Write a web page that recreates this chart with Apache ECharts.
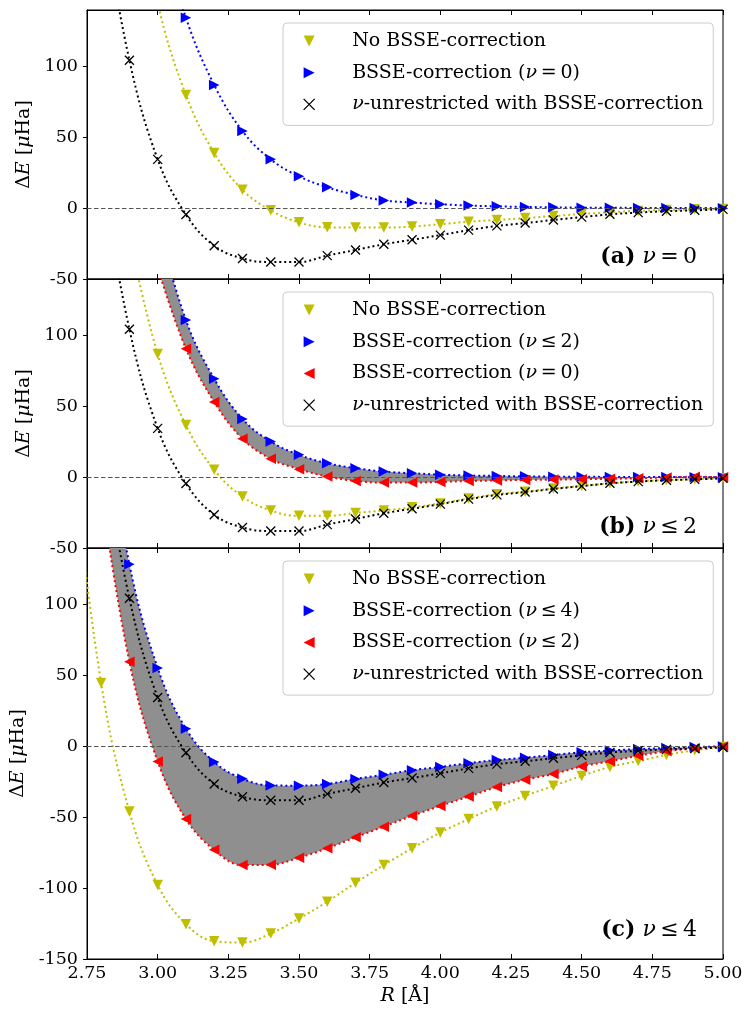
<!DOCTYPE html>
<html>
<head>
<meta charset="utf-8">
<script src="https://cdn.jsdelivr.net/npm/echarts@6/dist/echarts.min.js"></script>
<style>
  html, body { margin: 0; padding: 0; background: #ffffff; }
  #chart { width: 745px; height: 1015px; }
</style>
</head>
<body>
<div id="chart"></div>
<script>
// Separation R in Å (2.7 lies just left of the plotted window)
const R = [2.7, 2.8, 2.9, 3.0, 3.1, 3.2, 3.3, 3.4, 3.5, 3.6, 3.7, 3.8,
           3.9, 4.0, 4.1, 4.2, 4.3, 4.4, 4.5, 4.6, 4.7, 4.8, 4.9, 5.0];

// Interaction energy ΔE in µHa
const unrestricted = [null, 215, 104.5, 34.5, -4.5, -26.5, -35.5, -38, -38, -33.5, -29.5, -25.5,
                      -22.3, -19, -15.5, -12.5, -10.5, -8.3, -6.3, -4.3, -3.1, -2.1, -1.5, -0.8];

// (a) nu = 0
const noBsseA  = [null, null, 250, 145, 80, 39, 13, -1.5, -10, -13.5, -13.7, -13.7,
                  -13, -11.3, -9.5, -8.3, -7, -5.5, -4.1, -2.9, -1.9, -1.3, -0.8, -0.5];
const bsseNu0A = [null, null, 310, 205, 134.5, 87, 54.5, 34.5, 22.5, 14.8, 9.4, 5.5,
                  4.0, 2.8, 1.9, 1.3, 0.9, 0.6, 0.4, 0.3, 0.2, 0.1, 0.1, 0.0];

// (b) nu <= 2
const noBsseB  = [null, null, 170, 87, 36.8, 5.2, -13.7, -23.5, -27.3, -27.3, -25.2, -23.5,
                  -21.3, -18.5, -15, -12, -10.2, -8, -6.2, -4.3, -3, -2, -1.5, -0.8];
const bsseNu2B = [null, null, null, 180, 111, 69.5, 41.2, 25.2, 15.8, 9.9, 6.4, 4.0,
                  2.8, 1.8, 1.2, 0.9, 0.6, 0.4, 0.3, 0.2, 0.1, 0.1, 0.0, 0.0];
const bsseNu0B = [null, null, null, 148, 90.8, 53.2, 27.2, 13, 5.7, 0.5, -2.6, -3.8,
                  -3.8, -3.3, -2.7, -2.3, -1.9, -1.7, -1.4, -1.1, -0.8, -0.2, 0.3, 0.0];

// (c) nu <= 4
const noBsseC  = [200, 44.8, -46, -97.8, -125.4, -137.4, -138.4, -132, -121.4, -109.6, -96.2, -83.7,
                  -71.9, -60.8, -51.3, -42.4, -34.9, -27.8, -20.8, -14.5, -10.3, -6, -2.7, -0.5];
const bsseNu4C = [null, 250, 128.5, 55.4, 12.5, -11, -22.8, -27.5, -27.7, -26.5, -23, -20,
                  -16.8, -14.5, -11.8, -9.6, -8, -6, -4.2, -2.9, -1.9, -1.1, -0.4, 0];
const bsseNu2C = [null, 180, 59.7, -10.6, -51.3, -73, -83.7, -83.5, -78.5, -71.9, -64.1, -56.6,
                  -49, -42, -35.4, -28.7, -23.5, -19.5, -14.1, -10.5, -6.6, -3.5, -1.3, 0];

// Axis ticks
const xTicks   = [2.75, 3.00, 3.25, 3.50, 3.75, 4.00, 4.25, 4.50, 4.75, 5.00];
const yTicksAB = [-50, 0, 50, 100];
const yTicksC  = [-150, -100, -50, 0, 50, 100];

// Legend labels
const LBL_NO    = 'No BSSE-correction';
const LBL_NU0   = 'BSSE-correction (ν\u2009=\u20090)';
const LBL_NU2   = 'BSSE-correction (ν\u2009≤\u20092)';
const LBL_NU4   = 'BSSE-correction (ν\u2009≤\u20094)';
const LBL_UNRES = 'ν-unrestricted with BSSE-correction';

const FONT = 'DejaVu Serif';
const YELLOW = '#bfbf00', BLUE = '#0000ff', RED = '#ff0000', BLACK = '#000000';
const FILL = '#8e8f8e';

const ICON_DOWN  = 'path://M0,0L10,0L5,10Z';
const ICON_RIGHT = 'path://M0,0L10,5L0,10Z';
const ICON_LEFT  = 'path://M10,0L0,5L10,10Z';
const ICON_X     = 'path://M0,0L10,10M10,0L0,10';

const SMOOTH = 0.4;

function pairs(vals) { return R.map((x, i) => [x, vals[i]]); }
function markerStyle(symbol, color) {
  return symbol === ICON_X
    ? { color: 'rgba(0,0,0,0)', borderColor: color, borderWidth: 1.3 }
    : { color: color, borderWidth: 0 };
}

function lineSeries(panel, name, vals, color, symbol, z, extra) {
  return Object.assign({
    type: 'line', name: name,
    xAxisIndex: panel * 2, yAxisIndex: panel,
    data: pairs(vals),
    smooth: SMOOTH,
    symbol: symbol, symbolSize: symbol === ICON_X ? 9 : 10.5,
    z: z,
    lineStyle: { color: color, width: 2, type: [2, 3] },
    itemStyle: markerStyle(symbol, color),
    emphasis: { disabled: true },
    silent: true
  }, extra || {});
}

// Shaded band between two curves: invisible lower curve plus the stacked gap above it.
// Values come first in each item so that stacking acts on the y dimension.
function bandSeries(panel, lo, hi, key) {
  const idx = R.map((_, i) => i).filter(i => lo[i] !== null && hi[i] !== null);
  const common = {
    type: 'line', xAxisIndex: panel * 2, yAxisIndex: panel,
    encode: { x: 1, y: 0 },
    smooth: SMOOTH, symbol: 'none', showSymbol: false,
    stack: key, stackStrategy: 'all',
    lineStyle: { width: 0, opacity: 0 },
    emphasis: { disabled: true }, silent: true, z: 1
  };
  return [
    Object.assign({}, common, { name: key + '-base',
      data: idx.map(i => [lo[i], R[i]]) }),
    Object.assign({}, common, { name: key + '-fill',
      data: idx.map(i => [+(hi[i] - lo[i]).toFixed(3), R[i]]),
      areaStyle: { color: FILL, opacity: 1 } })
  ];
}

// Dashed reference line at ΔE = 0
const zeroLine = {
  silent: true, symbol: ['none', 'none'], label: { show: false },
  lineStyle: { color: '#555555', type: [4.5, 2.5], width: 1, opacity: 1 },
  emphasis: { disabled: true },
  data: [{ yAxis: 0 }]
};

const richText = {
  i: { fontStyle: 'italic', fontFamily: FONT, fontSize: 19, lineHeight: 22, color: '#000' },
  p: { width: 28, fontFamily: FONT, fontSize: 19, lineHeight: 22 }
};

function legendFor(top, items) {
  return {
    orient: 'vertical', left: 283, top: top,
    itemWidth: 20, itemHeight: 11, itemGap: 9.7,
    padding: [7, 10, 10, 20],
    backgroundColor: 'rgba(255,255,255,0.8)',
    borderColor: '#cccccc', borderWidth: 1, borderRadius: 4,
    selectedMode: false,
    textStyle: { fontFamily: FONT, fontSize: 19, lineHeight: 22, color: '#000', rich: richText },
    formatter: n => '{p| }' + n.replace(/ν/g, '{i|ν}'),
    data: items.map(it => ({
      name: it[0], icon: it[2],
      itemStyle: markerStyle(it[2], it[1])
    }))
  };
}

const grids = [
  { left: 87, width: 636, top: 10,  height: 269 },
  { left: 87, width: 636, top: 279, height: 269 },
  { left: 87, width: 636, top: 548, height: 411 }
].map(g => Object.assign(g, {
  show: true, borderColor: '#000', borderWidth: 1, backgroundColor: 'transparent',
  containLabel: false, outerBoundsMode: 'none'
}));

const xAxes = [];
[0, 1, 2].forEach(p => {
  const last = p === 2;
  xAxes.push({
    type: 'value', gridIndex: p, position: 'bottom',
    min: 2.75, max: 5.0, interval: 0.25,
    axisLine: { show: true, onZero: false, lineStyle: { color: '#000', width: 1 } },
    axisTick: { show: true, inside: true, length: 5, lineStyle: { color: '#000' },
                customValues: xTicks },
    axisLabel: { show: last, margin: 5, fontFamily: FONT, fontSize: 17.5, color: '#000',
                 customValues: xTicks, formatter: v => v.toFixed(2) },
    splitLine: { show: false },
    name: last ? '{i|R} [Å]' : '', nameLocation: 'middle', nameGap: 28,
    nameTextStyle: { fontFamily: FONT, fontSize: 19, color: '#000',
                     rich: { i: { fontStyle: 'italic', fontFamily: FONT, fontSize: 19, color: '#000' } } }
  });
  xAxes.push({
    type: 'value', gridIndex: p, position: 'top',
    min: 2.75, max: 5.0, interval: 0.25,
    axisLine: { show: true, onZero: false, lineStyle: { color: '#000', width: 1 } },
    axisTick: { show: true, inside: true, length: 5, lineStyle: { color: '#000' },
                customValues: xTicks },
    axisLabel: { show: false },
    splitLine: { show: false }
  });
});

const yAxes = [0, 1, 2].map(p => {
  const ticks = p === 2 ? yTicksC : yTicksAB;
  return {
    type: 'value', gridIndex: p,
    min: p === 2 ? -150 : -50, max: 140, interval: 50,
    axisLine: { show: true, onZero: false, lineStyle: { color: '#000', width: 1 } },
    axisTick: { show: true, inside: false, length: 4, lineStyle: { color: '#000' },
                customValues: ticks },
    axisLabel: { margin: 9, fontFamily: FONT, fontSize: 17.5, color: '#000',
                 customValues: ticks, formatter: v => String(v) },
    splitLine: { show: false },
    name: 'Δ{i|E} [{i|μ}Ha]', nameLocation: 'middle', nameRotate: 90,
    nameGap: p === 2 ? 57 : 48,
    nameTextStyle: { fontFamily: FONT, fontSize: 19, color: '#000',
                     rich: { i: { fontStyle: 'italic', fontFamily: FONT, fontSize: 19, color: '#000' } } }
  };
});

const titleRich = {
  b: { fontWeight: 'bold', fontFamily: FONT, fontSize: 22, lineHeight: 26, color: '#000' },
  i: { fontStyle: 'italic', fontWeight: 'normal', fontFamily: FONT, fontSize: 22, lineHeight: 26, color: '#000' },
  n: { fontWeight: 'normal', fontFamily: FONT, fontSize: 22, lineHeight: 26, color: '#000' }
};
function panelTitle(text, top) {
  return { text: text, right: 48, top: top, padding: 0,
           textStyle: { fontFamily: FONT, fontSize: 22, fontWeight: 'normal', lineHeight: 26,
                        color: '#000', rich: titleRich } };
}

const series = [].concat(
  // (a)
  lineSeries(0, LBL_NO, noBsseA, YELLOW, ICON_DOWN, 2, { markLine: zeroLine }),
  lineSeries(0, LBL_NU0, bsseNu0A, BLUE, ICON_RIGHT, 3),
  lineSeries(0, LBL_UNRES, unrestricted, BLACK, ICON_X, 5),
  // (b)
  bandSeries(1, bsseNu0B, bsseNu2B, 'bandB'),
  lineSeries(1, LBL_NO, noBsseB, YELLOW, ICON_DOWN, 2, { markLine: zeroLine }),
  lineSeries(1, LBL_NU2, bsseNu2B, BLUE, ICON_RIGHT, 3),
  lineSeries(1, LBL_NU0, bsseNu0B, RED, ICON_LEFT, 4),
  lineSeries(1, LBL_UNRES, unrestricted, BLACK, ICON_X, 5),
  // (c)
  bandSeries(2, bsseNu2C, bsseNu4C, 'bandC'),
  lineSeries(2, LBL_NO, noBsseC, YELLOW, ICON_DOWN, 2, { markLine: zeroLine }),
  lineSeries(2, LBL_NU4, bsseNu4C, BLUE, ICON_RIGHT, 3),
  lineSeries(2, LBL_NU2, bsseNu2C, RED, ICON_LEFT, 4),
  lineSeries(2, LBL_UNRES, unrestricted, BLACK, ICON_X, 5)
);

const chart = echarts.init(document.getElementById('chart'), null, { renderer: 'canvas' });
chart.setOption({
  animation: false,
  backgroundColor: '#ffffff',
  grid: grids,
  xAxis: xAxes,
  yAxis: yAxes,
  title: [
    panelTitle('{b|(a)} {i|ν}{n|\u2009=\u20090}', 244),
    panelTitle('{b|(b)} {i|ν}{n|\u2009≤\u20092}', 514),
    panelTitle('{b|(c)} {i|ν}{n|\u2009≤\u20094}', 917)
  ],
  legend: [
    legendFor(23, [[LBL_NO, YELLOW, ICON_DOWN], [LBL_NU0, BLUE, ICON_RIGHT], [LBL_UNRES, BLACK, ICON_X]]),
    legendFor(292, [[LBL_NO, YELLOW, ICON_DOWN], [LBL_NU2, BLUE, ICON_RIGHT], [LBL_NU0, RED, ICON_LEFT], [LBL_UNRES, BLACK, ICON_X]]),
    legendFor(561, [[LBL_NO, YELLOW, ICON_DOWN], [LBL_NU4, BLUE, ICON_RIGHT], [LBL_NU2, RED, ICON_LEFT], [LBL_UNRES, BLACK, ICON_X]])
  ],
  series: series
});
</script>
</body>
</html>
